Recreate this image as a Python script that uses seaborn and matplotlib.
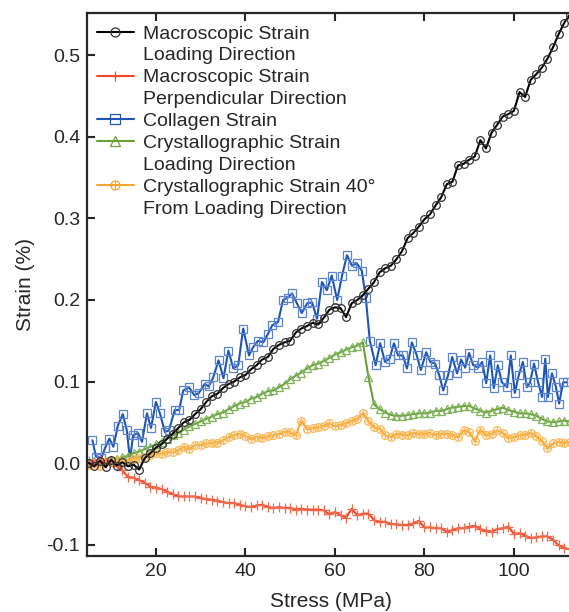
import numpy as np
import pandas as pd
import matplotlib
matplotlib.use("Agg")
import matplotlib.pyplot as plt
from matplotlib.lines import Line2D
import seaborn as sns

# ---------------- data ----------------
stress = [5.0, 6.25, 7.5, 8.75, 10.0, 11.25, 12.5, 13.75, 15.0, 16.25,
          17.5, 18.75, 20.0, 21.25, 22.5, 23.75, 25.0, 26.25, 27.5, 28.75,
          30.0, 31.25, 32.5, 33.75, 35.0, 36.25, 37.5, 38.75, 40.0, 41.25,
          42.5, 43.75, 45.0, 46.25, 47.5, 48.75, 50.0, 51.25, 52.5, 53.75,
          55.0, 56.25, 57.5, 58.75, 60.0, 61.25, 62.5, 63.75, 65.0, 66.25,
          67.5, 68.75, 70.0, 71.25, 72.5, 73.75, 75.0, 76.25, 77.5, 78.75,
          80.0, 81.25, 82.5, 83.75, 85.0, 86.25, 87.5, 88.75, 90.0, 91.25,
          92.5, 93.75, 95.0, 96.25, 97.5, 98.75, 100.0, 101.25, 102.5, 103.75,
          105.0, 106.25, 107.5, 108.75, 110.0, 111.25, 112.5]

macro_loading = [0.000, -0.004, 0.003, -0.005, 0.004, -0.003, 0.001, -0.004, -0.002, -0.008,
                 0.006, 0.012, 0.019, 0.023, 0.030, 0.036, 0.043, 0.050, 0.053, 0.060,
                 0.066, 0.075, 0.082, 0.085, 0.092, 0.097, 0.100, 0.105, 0.108, 0.115,
                 0.120, 0.127, 0.130, 0.140, 0.145, 0.148, 0.150, 0.160, 0.165, 0.168,
                 0.172, 0.170, 0.178, 0.188, 0.191, 0.190, 0.179, 0.196, 0.200, 0.206,
                 0.214, 0.222, 0.234, 0.239, 0.242, 0.250, 0.260, 0.276, 0.282, 0.290,
                 0.299, 0.305, 0.316, 0.326, 0.342, 0.345, 0.365, 0.367, 0.372, 0.376,
                 0.396, 0.386, 0.405, 0.415, 0.425, 0.428, 0.432, 0.455, 0.449, 0.470,
                 0.477, 0.485, 0.496, 0.510, 0.526, 0.540, 0.550]

macro_perp = [0.002, 0.000, 0.004, 0.000, 0.003, -0.004, -0.009, -0.017, -0.018, -0.021,
              -0.024, -0.029, -0.030, -0.032, -0.035, -0.038, -0.041, -0.041, -0.041, -0.041,
              -0.043, -0.044, -0.045, -0.046, -0.048, -0.049, -0.049, -0.051, -0.053, -0.054,
              -0.052, -0.051, -0.054, -0.055, -0.054, -0.055, -0.055, -0.057, -0.056, -0.057,
              -0.057, -0.057, -0.058, -0.063, -0.060, -0.064, -0.067, -0.056, -0.064, -0.062,
              -0.062, -0.070, -0.072, -0.072, -0.075, -0.075, -0.076, -0.076, -0.074, -0.071,
              -0.079, -0.079, -0.080, -0.080, -0.084, -0.082, -0.080, -0.080, -0.078, -0.077,
              -0.081, -0.083, -0.084, -0.081, -0.080, -0.078, -0.087, -0.086, -0.089, -0.092,
              -0.091, -0.090, -0.090, -0.094, -0.101, -0.104, -0.106]

cryst_loading = [0.000, 0.002, 0.001, 0.003, 0.004, 0.005, 0.007, 0.009, 0.012, 0.014,
                 0.017, 0.020, 0.023, 0.026, 0.030, 0.034, 0.037, 0.041, 0.045, 0.048,
                 0.051, 0.054, 0.057, 0.060, 0.062, 0.066, 0.070, 0.073, 0.075, 0.079,
                 0.081, 0.085, 0.088, 0.089, 0.093, 0.097, 0.103, 0.107, 0.111, 0.116,
                 0.120, 0.122, 0.125, 0.129, 0.133, 0.136, 0.139, 0.142, 0.144, 0.148,
                 0.105, 0.072, 0.066, 0.062, 0.059, 0.058, 0.058, 0.059, 0.060, 0.061,
                 0.061, 0.062, 0.064, 0.064, 0.066, 0.068, 0.069, 0.070, 0.070, 0.067,
                 0.064, 0.062, 0.064, 0.066, 0.068, 0.065, 0.063, 0.061, 0.061, 0.060,
                 0.058, 0.054, 0.051, 0.050, 0.051, 0.052, 0.051]

cryst_40deg = [-0.002, 0.000, -0.003, 0.002, 0.001, 0.004, 0.000, 0.003, 0.005, 0.006,
               0.007, 0.010, 0.012, 0.011, 0.014, 0.013, 0.016, 0.020, 0.017, 0.022,
               0.022, 0.024, 0.025, 0.025, 0.028, 0.032, 0.034, 0.036, 0.033, 0.030,
               0.032, 0.031, 0.033, 0.034, 0.036, 0.038, 0.038, 0.034, 0.052, 0.042,
               0.043, 0.044, 0.046, 0.049, 0.045, 0.047, 0.049, 0.052, 0.054, 0.061,
               0.052, 0.044, 0.042, 0.034, 0.032, 0.036, 0.035, 0.034, 0.037, 0.036,
               0.036, 0.037, 0.034, 0.036, 0.036, 0.035, 0.032, 0.040, 0.038, 0.027,
               0.041, 0.034, 0.036, 0.040, 0.037, 0.031, 0.032, 0.034, 0.035, 0.037,
               0.033, 0.027, 0.018, 0.024, 0.026, 0.025, 0.026]

collagen_stress = [5.8, 6.6, 7.8, 8.6, 9.6, 10.5, 11.5, 12.6, 13.5, 14.2,
                   14.9, 16.0, 16.9, 18.0, 18.9, 20.0, 20.9, 22.0, 22.9, 24.2,
                   25.2, 26.1, 27.4, 28.6, 29.6, 30.9, 31.8, 32.8, 34.0, 35.1,
                   36.2, 37.3, 38.4, 39.5, 40.8, 41.7, 42.8, 44.0, 45.0, 46.0,
                   47.3, 48.4, 49.5, 50.4, 51.5, 52.6, 53.8, 54.9, 56.0, 57.1,
                   58.2, 59.3, 60.5, 61.6, 62.7, 63.8, 64.9, 66.0, 66.9, 67.8,
                   69.1, 70.1, 71.2, 72.2, 73.2, 74.1, 75.2, 76.1, 77.2, 78.3,
                   79.2, 80.4, 81.3, 82.4, 83.3, 84.2, 85.3, 86.2, 87.3, 88.2,
                   89.1, 90.0, 90.9, 92.0, 92.9, 93.8, 94.7, 95.5, 96.4, 97.3,
                   98.5, 99.3, 100.2, 101.1, 102.0, 102.9, 103.6, 104.5, 105.4, 106.3,
                   107.0, 107.6, 108.5, 109.4, 110.1, 111.0, 111.9]

collagen = [0.028, 0.008, 0.006, 0.018, 0.030, 0.020, 0.046, 0.060, 0.040, 0.004,
            0.034, 0.037, 0.026, 0.061, 0.043, 0.075, 0.061, 0.038, 0.040, 0.065,
            0.065, 0.089, 0.093, 0.083, 0.086, 0.097, 0.094, 0.105, 0.126, 0.104,
            0.138, 0.116, 0.120, 0.165, 0.132, 0.142, 0.150, 0.148, 0.158, 0.169,
            0.173, 0.200, 0.203, 0.208, 0.196, 0.184, 0.196, 0.197, 0.177, 0.222,
            0.212, 0.230, 0.200, 0.230, 0.255, 0.242, 0.245, 0.236, 0.203, 0.150,
            0.120, 0.147, 0.124, 0.128, 0.147, 0.132, 0.132, 0.116, 0.148, 0.132,
            0.114, 0.136, 0.124, 0.122, 0.108, 0.089, 0.108, 0.130, 0.110, 0.127,
            0.117, 0.135, 0.120, 0.117, 0.124, 0.098, 0.132, 0.092, 0.120, 0.099,
            0.093, 0.132, 0.086, 0.108, 0.124, 0.093, 0.099, 0.122, 0.099, 0.081,
            0.128, 0.081, 0.110, 0.093, 0.073, 0.099, 0.099]

x_ticks = [20, 40, 60, 80, 100]
y_ticks = [-0.1, 0.0, 0.1, 0.2, 0.3, 0.4, 0.5]

# ---------------- style ----------------
sns.set_style("ticks")
plt.rcParams["font.family"] = ["Liberation Sans", "DejaVu Sans"]
plt.rcParams["axes.unicode_minus"] = False

W_PX, H_PX = 569, 612
fig = plt.figure(figsize=(W_PX / 100, H_PX / 100), dpi=100)
left_px, top_px, bottom_px = 87, 13, 556
ax_w = (W_PX + 6 - left_px) / W_PX
ax = fig.add_axes([left_px / W_PX, 1 - bottom_px / H_PX, ax_w, (bottom_px - top_px) / H_PX])

BLACK = "#000000"
RED = "#ee4a2a"
BLUE = "#1d56b3"
GREEN = "#6a9e3c"
ORANGE = "#f7a530"

lw = 1.5
ms = 5.5
mew = 0.9

df_main = pd.DataFrame({"stress": stress, "macro_loading": macro_loading,
                        "macro_perp": macro_perp, "cryst_loading": cryst_loading,
                        "cryst_40deg": cryst_40deg})
df_col = pd.DataFrame({"stress": collagen_stress, "collagen": collagen})

sns.lineplot(data=df_col, x="stress", y="collagen", ax=ax, color=BLUE, lw=lw,
             marker="s", ms=ms, mfc="none", mec="#5d83d3", mew=mew)
sns.lineplot(data=df_main, x="stress", y="cryst_loading", ax=ax, color=GREEN, lw=lw,
             marker="^", ms=ms, mfc="none", mec="#7fb45a", mew=mew)
sns.lineplot(data=df_main, x="stress", y="cryst_40deg", ax=ax, color=ORANGE, lw=lw,
             marker="o", ms=ms, mfc="none", mec="#f9b653", mew=mew)
sns.lineplot(data=df_main, x="stress", y="cryst_40deg", ax=ax, color=ORANGE, lw=0,
             marker="+", ms=ms - 1, mec="#f9b653", mew=mew)
sns.lineplot(data=df_main, x="stress", y="macro_perp", ax=ax, color=RED, lw=lw,
             marker="+", ms=ms + 1, mec="#f26a4e", mew=mew)
sns.lineplot(data=df_main, x="stress", y="macro_loading", ax=ax, color=BLACK, lw=lw,
             marker="o", ms=ms, mfc="none", mec="#333333", mew=mew)

px_per_x = 4.475
x0 = 4.6
ax.set_xlim(x0, x0 + ax_w * W_PX / px_per_x)
ax.set_ylim(-0.114, 0.552)
ax.set_xticks(x_ticks)
ax.set_yticks(y_ticks)
ax.set_yticklabels([f"{v:.1f}" for v in y_ticks])
ax.tick_params(direction="in", top=True, right=False, length=6, width=1.5,
               labelsize=14, pad=5)
for s in ax.spines.values():
    s.set_linewidth(1.6)
    s.set_visible(True)
ax.set_xlabel("Stress (MPa)", fontsize=15, labelpad=9)
ax.set_ylabel("Strain (%)", fontsize=15, labelpad=8)

# legend
def h(color, marker, mec, **kw):
    return Line2D([], [], color=color, lw=lw, marker=marker, ms=ms + 1,
                  mfc="none", mec=mec, mew=mew, **kw)

blank = Line2D([], [], lw=0, alpha=0)
h_black = h(BLACK, "o", "#333333")
h_red = h(RED, "+", RED)
h_blue = h(BLUE, "s", BLUE)
h_green = h(GREEN, "^", GREEN)
h_orange = (h(ORANGE, "o", ORANGE), Line2D([], [], lw=0, marker="+", ms=ms, mec=ORANGE, mew=mew))

handles = [h_black, blank, h_red, blank, h_blue, h_green, blank, h_orange, blank]
labels = ["Macroscopic Strain", "Loading Direction",
          "Macroscopic Strain", "Perpendicular Direction",
          "Collagen Strain",
          "Crystallographic Strain", "Loading Direction",
          "Crystallographic Strain 40\u00b0", "From Loading Direction"]
ax_px_w = ax_w * W_PX
ax_px_h = bottom_px - top_px
leg = ax.legend(handles, labels, loc="upper left",
                bbox_to_anchor=((97 - left_px) / ax_px_w, 1 - (25 - top_px) / ax_px_h),
                frameon=False, fontsize=14, handlelength=1.9, handletextpad=0.45,
                labelspacing=0.22, borderpad=0, borderaxespad=0)

fig.savefig("out.png", dpi=100)
